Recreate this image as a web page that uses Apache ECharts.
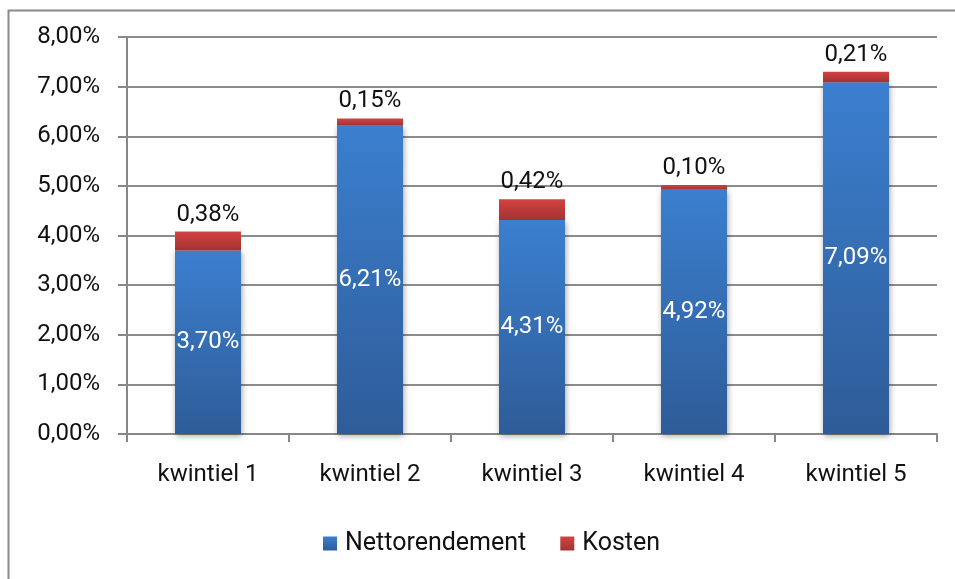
<!DOCTYPE html>
<html>
<head>
<meta charset="utf-8">
<script src="https://cdn.jsdelivr.net/npm/echarts@6/dist/echarts.min.js"></script>
<style>html,body{margin:0;padding:0;background:#fff;}#c{width:955px;height:579px;}</style>
</head>
<body>
<div id="c"></div>
<script>
var categories = ['kwintiel 1', 'kwintiel 2', 'kwintiel 3', 'kwintiel 4', 'kwintiel 5'];
var nettorendement = [3.70, 6.21, 4.31, 4.92, 7.09];
var kosten = [0.38, 0.15, 0.42, 0.10, 0.21];
var yTicks = [0, 1, 2, 3, 4, 5, 6, 7, 8];

function fmt(v) { return v.toFixed(2).replace('.', ',') + '%'; }

var font = 'Roboto, "Liberation Sans", Arial, sans-serif';
var chart = echarts.init(document.getElementById('c'), null, { renderer: 'canvas' });
var blueGrad = new echarts.graphic.LinearGradient(0, 0, 0, 1, [
  { offset: 0, color: '#3B7FCF' }, { offset: 1, color: '#2E5C98' }]);
var redGrad = new echarts.graphic.LinearGradient(0, 0, 0, 1, [
  { offset: 0, color: '#D44242' }, { offset: 1, color: '#A23232' }]);

chart.setOption({
  animation: false,
  graphic: [{
    type: 'rect', left: 6, top: 8, shape: { width: 980, height: 600 },
    style: { fill: 'none', stroke: '#8a8a8a', lineWidth: 2 }, silent: true, z: -1
  }],
  grid: { left: 127, right: 18, top: 37, bottom: 145, containLabel: false },
  legend: {
    bottom: 18, left: 318, itemWidth: 14, itemHeight: 14, itemGap: 34,
    icon: 'rect',
    textStyle: { fontFamily: font, fontSize: 25, color: '#111', padding: [0, 0, 0, 3] },
    data: ['Nettorendement', 'Kosten']
  },
  xAxis: {
    type: 'category', data: categories,
    axisLine: { lineStyle: { color: '#888', width: 2 } },
    axisTick: { show: true, length: 8, lineStyle: { color: '#888', width: 2 } },
    axisLabel: { fontFamily: font, fontSize: 24, color: '#111', margin: 29 }
  },
  yAxis: {
    type: 'value', min: 0, max: 8, interval: 1,
    axisLine: { show: true, lineStyle: { color: '#888', width: 2 } },
    axisTick: { show: true, length: 9, lineStyle: { color: '#888', width: 2 } },
    splitLine: { lineStyle: { color: '#8c8c8c', width: 2 } },
    axisLabel: { fontFamily: font, fontSize: 24, color: '#111', margin: 27, formatter: function (v) { return fmt(v); } }
  },
  series: [{
    name: 'Nettorendement', type: 'bar', stack: 's', data: nettorendement,
    barWidth: 66,
    itemStyle: { color: blueGrad, shadowColor: 'rgba(0,0,0,0.35)', shadowBlur: 6, shadowOffsetX: 1, shadowOffsetY: 2 },
    label: { show: true, position: 'inside', color: '#fff', fontFamily: font, fontSize: 24, formatter: function (p) { return fmt(p.value); } }
  }, {
    name: 'Kosten', type: 'bar', stack: 's', data: kosten,
    barWidth: 66,
    itemStyle: { color: redGrad },
    label: { show: true, position: 'top', distance: 5, color: '#111', fontFamily: font, fontSize: 24, formatter: function (p) { return fmt(p.value); } }
  }]
});
</script>
</body>
</html>
